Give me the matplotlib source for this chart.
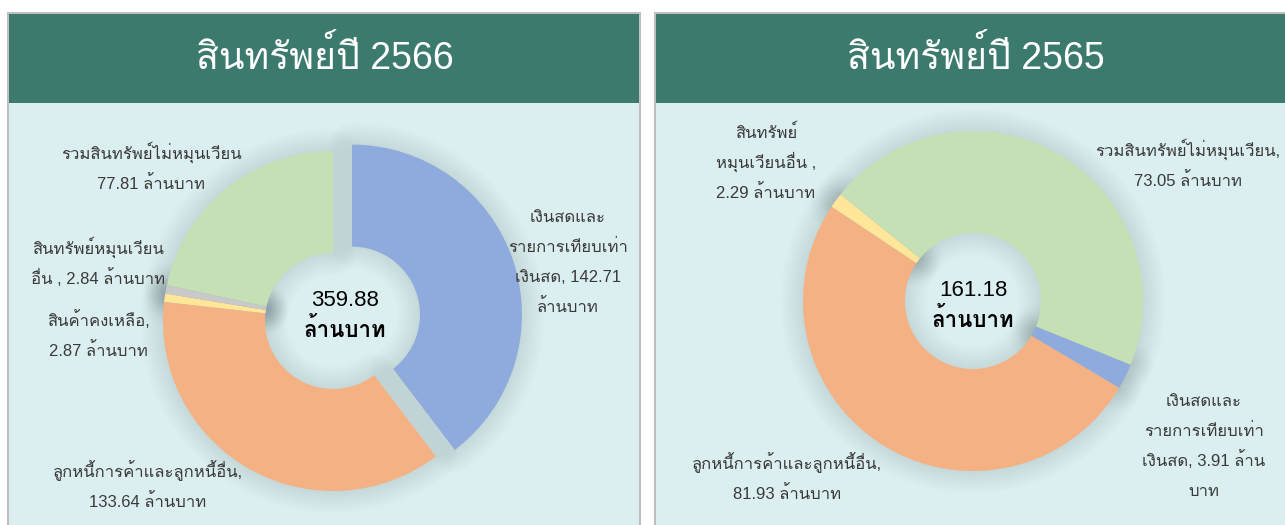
import matplotlib
matplotlib.use("Agg")
import matplotlib.pyplot as plt
from matplotlib import font_manager
from matplotlib.ft2font import FT2Font
from matplotlib.patches import Rectangle

# find installed fonts that can draw Thai, prefer a Tahoma-like one
thai_fonts = []
for f in font_manager.fontManager.ttflist:
    try:
        cmap = FT2Font(f.fname).get_charmap()
    except Exception:
        continue
    if 0x0E2A in cmap and f.name not in thai_fonts:
        thai_fonts.append(f.name)
if "Loma" in thai_fonts:
    thai_fonts.remove("Loma")
    thai_fonts.insert(0, "Loma")

# Latin / digits in an Arial-like face, Thai falls back to the Thai font
plt.rcParams['font.family'] = ['Liberation Sans'] + thai_fonts[:1] + ['DejaVu Sans']

# data
unit = "ล้านบาท"
titles = ["สินทรัพย์ปี 2566", "สินทรัพย์ปี 2565"]
totals = [359.88, 161.18]

labels_2566 = ["เงินสดและ\nรายการเทียบเท่า\nเงินสด, {:.2f}\nล้านบาท",
               "ลูกหนี้การค้าและลูกหนี้อื่น,\n{:.2f} ล้านบาท",
               "สินค้าคงเหลือ,\n{:.2f} ล้านบาท",
               "สินทรัพย์หมุนเวียน\nอื่น , {:.2f} ล้านบาท",
               "รวมสินทรัพย์ไม่หมุนเวียน\n{:.2f} ล้านบาท"]
values_2566 = [142.71, 133.64, 2.87, 2.84, 77.81]
colors_2566 = ["#8FAADC", "#F4B183", "#FFE699", "#C9C9C9", "#C5E0B4"]

labels_2565 = ["เงินสดและ\nรายการเทียบเท่า\nเงินสด, {:.2f} ล้าน\nบาท",
               "ลูกหนี้การค้าและลูกหนี้อื่น,\n{:.2f} ล้านบาท",
               "สินทรัพย์\nหมุนเวียนอื่น ,\n{:.2f} ล้านบาท",
               "รวมสินทรัพย์ไม่หมุนเวียน,\n{:.2f} ล้านบาท"]
values_2565 = [3.91, 81.93, 2.29, 73.05]
colors_2565 = ["#8FAADC", "#F4B183", "#FFE699", "#C5E0B4"]

W, H = 1285, 525
fig = plt.figure(figsize=(W / 100, H / 100), dpi=100)
ax = fig.add_axes([0, 0, 1, 1])

def Y(y):
    # screen y (from top) -> data y
    return H - y

# panels
panels = [(8, 640, 325), (655, 1300, 976)]
for (x0, x1, tx), title in zip(panels, titles):
    ax.add_patch(Rectangle((x0, Y(540)), x1 - x0, 540 - 13, facecolor="#DCEFF0",
                           edgecolor="#BFBFBF", linewidth=1.5, zorder=0))
    ax.add_patch(Rectangle((x0 + 1, Y(103)), x1 - x0 - 2, 103 - 14, facecolor="#3B7A6C",
                           edgecolor="none", zorder=1))
    ax.text(tx, Y(69), title, color="white", fontsize=27, ha="center",
            va="baseline", zorder=2)

charts = [
    dict(values=values_2566, colors=colors_2566, labels=labels_2566, center=(333, 321),
         start=90, explode=[20, 0, 0, 0, 0], total=totals[0], tpos=(345, 306, 337),
         lpos=[(568, 216), (148, 471), (98, 320), (98, 248), (151, 153)]),
    dict(values=values_2565, colors=colors_2565, labels=labels_2565, center=(973, 301),
         start=-22, explode=[0, 0, 0, 0], total=totals[1], tpos=(973, 296, 327),
         lpos=[(1204, 400), (787, 463), (766, 132), (1188, 150)]),
]

R = 170
for c in charts:
    cx, cy = c["center"]
    # soft shadow around the donut
    for lw in range(2, 34, 3):
        ax.pie(c["values"], center=(cx, Y(cy)), radius=R, startangle=c["start"],
               counterclock=False, explode=c["explode"],
               wedgeprops=dict(width=R * 0.6, facecolor="none",
                               edgecolor=(0.22, 0.32, 0.38, 0.011), linewidth=lw,
                               joinstyle="round"))
    ax.pie(c["values"], center=(cx, Y(cy)), radius=R, startangle=c["start"],
           counterclock=False, explode=c["explode"], colors=c["colors"],
           wedgeprops=dict(width=R * 0.6, edgecolor="none"))
    for lab, v, (lx, ly) in zip(c["labels"], c["values"], c["lpos"]):
        for i, line in enumerate(lab.format(v).split("\n")):
            ax.text(lx, Y(ly + 6 + i * 30), line, fontsize=12, color="#3A3A3A",
                    ha="center", va="baseline")
    tx, t1, t2 = c["tpos"]
    ax.text(tx, Y(t1), "{:.2f}".format(c["total"]), fontsize=16, color="black",
            ha="center", va="baseline")
    ax.text(tx, Y(t2), unit, fontsize=16, color="black", fontweight="bold",
            ha="center", va="baseline")

ax.set_xlim(0, W)
ax.set_ylim(0, H)
ax.set_aspect("auto")
ax.axis("off")
fig.savefig("out.png", dpi=100)
